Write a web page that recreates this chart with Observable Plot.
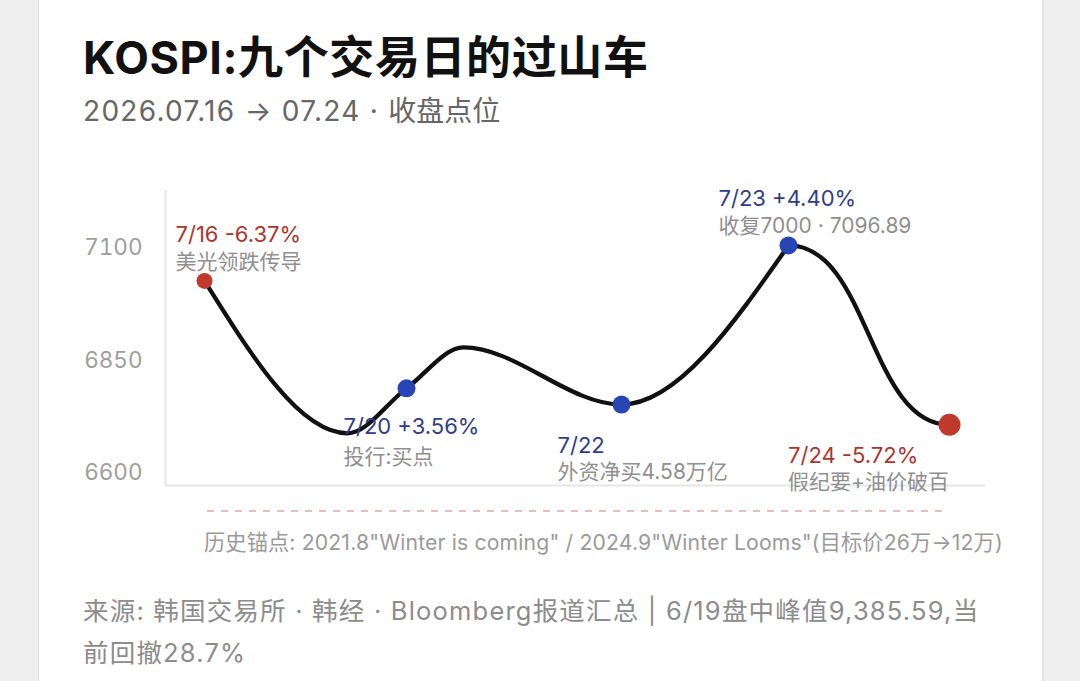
<!DOCTYPE html>
<html>
<head>
<meta charset="utf-8">
<script src="https://cdn.jsdelivr.net/npm/d3@7"></script>
<script src="https://cdn.jsdelivr.net/npm/@observablehq/plot@0.6"></script>
<style>
  html, body { margin: 0; padding: 0; }
  body { width: 1080px; height: 681px; overflow: hidden; background: #efefef; position: relative;
         font-family: Inter, "Noto Sans CJK SC", sans-serif; }
  .card { position: absolute; left: 38px; top: 0; width: 1003px; height: 681px; background: #fff;
          border-left: 1px solid #e4e4e4; border-right: 2px solid #e2e2e2; }
  .abs { position: absolute; white-space: nowrap; }
  #title { left: 83px; top: 35px; font-size: 45px; line-height: 45px; font-weight: 700; color: #111; letter-spacing: 0.6px; }
  #subtitle { left: 83px; top: 97px; font-size: 28px; line-height: 28px; color: #666; }
  #subtitle .lat { letter-spacing: 1.3px; }
  #chart { left: 60px; top: 170px; }
  #dash { left: 205px; top: 505px; }
  #note { left: 204px; top: 532px; font-size: 21.2px; line-height: 21px; color: #9a9a9a; letter-spacing: 0.15px; }
  #footer { left: 83px; top: 590px; font-size: 25.5px; line-height: 42px; color: #8c8c8c; letter-spacing: 1.2px; }
</style>
</head>
<body>
<div class="card"></div>
<div id="title" class="abs">KOSPI:九个交易日的过山车</div>
<div id="subtitle" class="abs"><span class="lat">2026.07.16 → 07.24 · </span>收盘点位</div>
<div id="chart" class="abs"></div>
<svg id="dash" class="abs" width="760" height="12"><line x1="2" y1="6" x2="744" y2="6" stroke="#e3a7a7" stroke-width="1.6" stroke-dasharray="7,7"/></svg>
<div id="note" class="abs">历史锚点: 2021.8"Winter is coming" / 2024.9"Winter Looms"(目标价26万→12万)</div>
<div id="footer" class="abs">来源: 韩国交易所 · 韩经 · Bloomberg报道汇总 | 6/19盘中峰值9,385.59,当<br>前回撤28.7%</div>
<script>
// ---- data ----
const dates   = ["7/16", "7/17", "7/20", "7/21", "7/22", "7/23", "7/24"];
const track   = [0, 1.43, 2.02, 2.59, 4.17, 5.84, 7.45];          // position along the drawn track
const closes  = [7018, 6679, 6779, 6870, 6743, 7096.89, 6698];
const keyDates = ["7/16", "7/20", "7/22", "7/23", "7/24"];
const keyChange = ["-6.37%", "+3.56%", "", "+4.40%", "-5.72%"];
const keyTone   = ["down", "up", "up", "up", "down"];
const keyNotes  = ["美光领跌传导", "投行:买点", "外资净买4.58万亿", "收复7000 · 7096.89", "假纪要+油价破百"];
const yTicks = [6600, 6850, 7100];
const xDomain = [-0.39, 7.81];
const yDomain = [6563, 7219];

// ---- build tables ----
const series = dates.map((d, i) => ({date: d, t: track[i], close: closes[i]}));
const keys = keyDates.map((d, i) => {
  const s = series.find(p => p.date === d);
  return {date: d, t: s.t, close: s.close, change: keyChange[i], tone: keyTone[i], note: keyNotes[i],
          head: keyChange[i] ? d + " " + keyChange[i] : d};
});
// the track up to the 7/23 peak, and the final slide into 7/24
const peakIdx = dates.indexOf("7/23");
const climb = series.slice(0, peakIdx + 1);
const slide = series.slice(peakIdx);

const dotFill  = {down: "#c0392b", up: "#2745b5"};
const headFill = {down: "#ab3530", up: "#2f3d8f"};

// label placement relative to each key dot (layout, not data)
const layout = {
  "7/16": {dx: -29,   dy1: -45.5, dy2: -19},
  "7/20": {dx: -63,   dy1: 39,    dy2: 69},
  "7/22": {dx: -64,   dy1: 41,    dy2: 68},
  "7/23": {dx: -70,   dy1: -46,   dy2: -19},
  "7/24": {dx: -161.5,dy1: 31,    dy2: 57.5}
};

const labelMarks = [];
for (const k of keys) {
  const L = layout[k.date];
  labelMarks.push(Plot.text([k], {x: "t", y: "close", text: "head", dx: L.dx, dy: L.dy1,
    textAnchor: "start", fill: headFill[k.tone], fontSize: 22}));
  labelMarks.push(Plot.text([k], {x: "t", y: "close", text: "note", dx: L.dx, dy: L.dy2,
    textAnchor: "start", fill: "#8f8f8f", fontSize: 21}));
}

const chart = Plot.plot({
  width: 960,
  height: 330,
  marginLeft: 105,
  marginRight: 35,
  marginTop: 20,
  marginBottom: 15,
  style: {fontFamily: 'Inter, "Noto Sans CJK SC", sans-serif', background: "transparent", overflow: "visible"},
  x: {type: "linear", domain: xDomain, axis: null},
  y: {domain: yDomain, axis: null},
  r: {type: "identity"},
  marks: [
    Plot.ruleX([xDomain[0]], {y1: yDomain[0], y2: yDomain[1], stroke: "#e6e6e6", strokeWidth: 2}),
    Plot.ruleY([yDomain[0]], {stroke: "#e6e6e6", strokeWidth: 2}),
    Plot.axisY({ticks: yTicks, tickSize: 0, tickPadding: 23, fontSize: 22.5, fill: "#9e9e9e", label: null, dy: 4, tickFormat: d => String(d)}),
    Plot.line(climb, {x: "t", y: "close", curve: "monotone-x", stroke: "#111", strokeWidth: 4.3, strokeLinecap: "round"}),
    Plot.line(slide, {x: "t", y: "close", curve: "bump-x", stroke: "#111", strokeWidth: 4.3, strokeLinecap: "round"}),
    Plot.dot(keys, {x: "t", y: "close", r: d => d.date === "7/24" ? 11 : (d.date === "7/16" ? 8 : 9),
      fill: d => dotFill[d.tone], stroke: "none"}),
    ...labelMarks
  ]
});
document.getElementById("chart").appendChild(chart);
</script>
</body>
</html>
